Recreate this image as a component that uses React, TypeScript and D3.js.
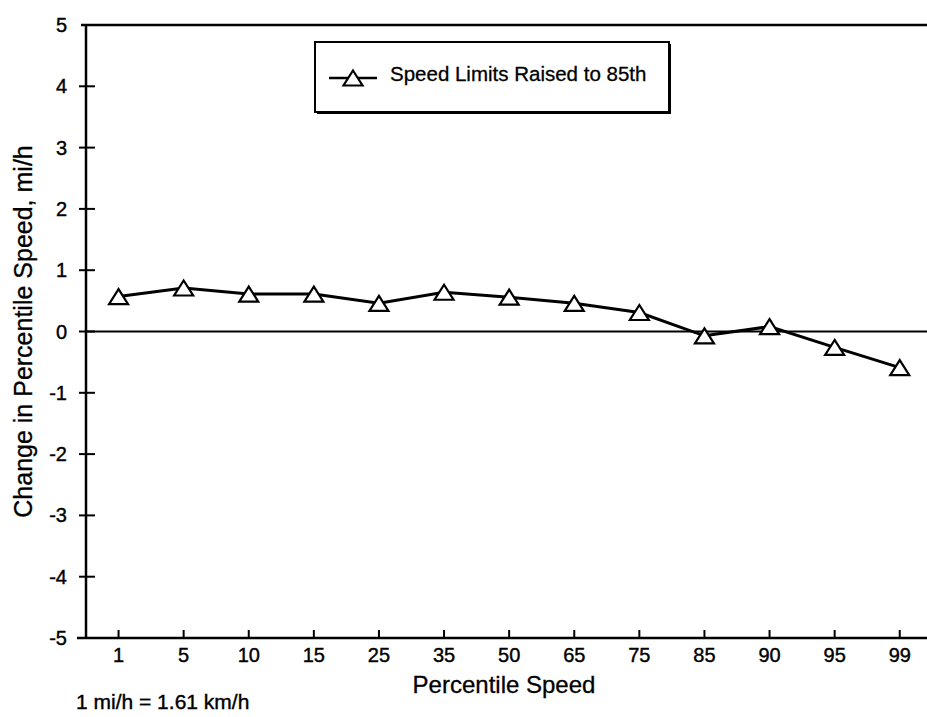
import React from 'react';
import * as d3 from 'd3';

// percentile categories along the x axis
const percentiles: string[] = ['1', '5', '10', '15', '25', '35', '50', '65', '75', '85', '90', '95', '99'];

// change in percentile speed (mi/h), speed limits raised to 85th
const speedChange: number[] = [0.57, 0.71, 0.61, 0.61, 0.46, 0.64, 0.56, 0.46, 0.31, -0.07, 0.08, -0.26, -0.59];

const yTicks: number[] = [5, 4, 3, 2, 1, 0, -1, -2, -3, -4, -5];

const seriesName = 'Speed Limits Raised to 85th';

const width = 927;
const height = 717;
const FONT = "Arial, 'Liberation Sans', sans-serif";

const Triangle: React.FC<{ cx: number; cy: number }> = ({ cx, cy }) => {
  const w = 9.5;
  const h = 7.5;
  return (
    <path
      d={`M${cx},${cy - h}L${cx + w},${cy + h}L${cx - w},${cy + h}Z`}
      fill="#fff"
      stroke="#000"
      strokeWidth={2.2}
    />
  );
};

const App: React.FC = () => {
  const left = 86;
  const top = 25;
  const bottom = 638;

  const x = d3.scaleBand<string>().domain(percentiles).range([left, left + 13 * 65.1]);
  const y = d3.scaleLinear().domain([-5, 5]).range([bottom, top]);
  const cx = (c: string) => (x(c) as number) + x.bandwidth() / 2;

  const points = percentiles.map((c, i) => ({ c, v: speedChange[i] }));
  const line = d3
    .line<{ c: string; v: number }>()
    .x((d) => cx(d.c))
    .y((d) => y(d.v));

  return (
    <svg
      width={width}
      height={height}
      style={{ position: 'absolute', left: 0, top: 0, background: '#fff' }}
      fontFamily={FONT}
    >
      <rect x={0} y={0} width={width} height={height} fill="#fff" />

      {/* frame */}
      <line x1={81} x2={width} y1={top} y2={top} stroke="#000" strokeWidth={2.5} />
      <line x1={left} x2={left} y1={top} y2={bottom} stroke="#000" strokeWidth={2.5} />
      <line x1={77} x2={width} y1={bottom} y2={bottom} stroke="#000" strokeWidth={2.5} />

      {/* zero line */}
      <line x1={left} x2={width} y1={y(0)} y2={y(0)} stroke="#000" strokeWidth={2.2} />

      {/* y ticks */}
      {yTicks.map((t) => (
        <g key={t}>
          {t !== 5 && t !== -5 && (
            <line x1={79} x2={95} y1={y(t)} y2={y(t)} stroke="#000" strokeWidth={2} />
          )}
          <text
            x={67}
            y={y(t)}
            dy="0.35em"
            textAnchor="end"
            fontSize={20}
            fill="#000"
            stroke="#000"
            strokeWidth={0.4}
          >
            {t}
          </text>
        </g>
      ))}

      {/* x ticks */}
      {percentiles.map((c) => (
        <g key={c}>
          <line x1={cx(c)} x2={cx(c)} y1={bottom} y2={bottom - 8} stroke="#000" strokeWidth={2} />
          <text
            x={cx(c)}
            y={bottom + 17}
            dy="0.35em"
            textAnchor="middle"
            fontSize={20}
            fill="#000"
            stroke="#000"
            strokeWidth={0.4}
          >
            {c}
          </text>
        </g>
      ))}

      {/* axis titles */}
      <text x={504} y={685} dy="0.35em" textAnchor="middle" fontSize={24} fill="#000" stroke="#000" strokeWidth={0.3}>
        Percentile Speed
      </text>
      <text
        transform={`translate(23, ${y(0)}) rotate(-90)`}
        dy="0.35em"
        textAnchor="middle"
        fontSize={25}
        fill="#000"
        stroke="#000"
        strokeWidth={0.3}
      >
        Change in Percentile Speed, mi/h
      </text>
      <text x={76} y={702} dy="0.35em" fontSize={21} fill="#000" stroke="#000" strokeWidth={0.4}>
        1 mi/h = 1.61 km/h
      </text>

      {/* series */}
      <path d={line(points) || ''} fill="none" stroke="#000" strokeWidth={3} />
      {points.map((d) => (
        <Triangle key={d.c} cx={cx(d.c)} cy={y(d.v)} />
      ))}

      {/* legend */}
      <rect x={317} y={44} width={354} height={70} fill="#000" />
      <rect x={315} y={42} width={354} height={70} fill="#fff" stroke="#000" strokeWidth={2} />
      <line x1={329} x2={377} y1={78} y2={78} stroke="#000" strokeWidth={2.5} />
      <Triangle cx={353} cy={78} />
      <text x={390} y={74} dy="0.35em" fontSize={20.5} fill="#000" stroke="#000" strokeWidth={0.3}>
        {seriesName}
      </text>
    </svg>
  );
};

export default App;
